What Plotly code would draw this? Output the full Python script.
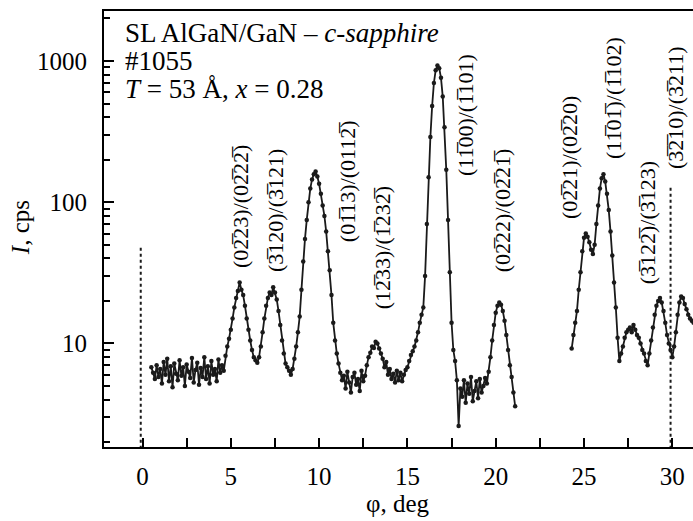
import numpy as np
import plotly.graph_objects as go

# ---------------- data ----------------
phi_a = [0.5,0.6,0.7,0.8,0.9,1.0,1.1,1.2,1.3,1.4,1.5,1.6,1.7,1.8,1.9,2.0,2.1,2.2,2.3,2.4,
         2.5,2.6,2.7,2.8,2.9,3.0,3.1,3.2,3.3,3.4,3.5,3.6,3.7,3.8,3.9,4.0,4.1,4.2,4.3,4.4,
         4.5,4.6,4.7,4.8,4.9,5.0,5.1,5.2,5.3,5.4,5.5,5.6,5.7,5.8,5.9,6.0,6.1,6.2,6.3,6.4,
         6.5,6.6,6.7,6.8,6.9,7.0,7.1,7.2,7.3,7.4,7.5,7.6,7.7,7.8,7.9,8.0,8.1,8.2,8.3,8.4,
         8.5,8.6,8.7,8.8,8.9,9.0,9.1,9.2,9.3,9.4,9.5,9.6,9.7,9.8,9.9,10.0,10.1,10.2,10.3,10.4,
         10.5,10.6,10.7,10.8,10.9,11.0,11.1,11.2,11.3,11.4,11.5,11.6,11.7,11.8,11.9,12.0,12.1,12.2,12.3,12.4,
         12.5,12.6,12.7,12.8,12.9,13.0,13.1,13.2,13.3,13.4,13.5,13.6,13.7,13.8,13.9,14.0,14.1,14.2,14.3,14.4,
         14.5,14.6,14.7,14.8,14.9,15.0,15.1,15.2,15.3,15.4,15.5,15.6,15.7,15.8,15.9,16.0,16.1,16.2,16.3,16.4,
         16.5,16.6,16.7,16.8,16.9,17.0,17.1,17.2,17.3,17.4,17.5,17.6,17.7,17.8,17.9,18.0,18.1,18.2,18.3,18.4,
         18.5,18.6,18.7,18.8,18.9,19.0,19.1,19.2,19.3,19.4,19.5,19.6,19.7,19.8,19.9,20.0,20.1,20.2,20.3,20.4,
         20.5,20.6,20.7,20.8,20.9,21.0,21.1]
cps_a = [6.8,6.2,5.6,7.0,5.8,6.6,5.2,7.4,6.0,7.8,5.4,6.9,4.9,7.2,6.1,5.5,7.6,5.9,6.8,5.0,
         7.1,6.3,5.7,7.9,5.3,6.5,7.3,5.1,6.7,5.8,8.0,5.6,6.9,5.2,7.5,6.0,6.6,5.4,7.7,6.2,
         7.0,6.4,8.2,9.5,10.8,12.5,15.0,18.0,21.0,23.5,27.0,24.0,22.0,18.5,15.0,12.5,10.5,9.0,8.0,7.6,
         7.3,8.0,9.5,12.0,15.0,18.5,21.0,23.0,22.0,25.0,23.0,20.5,17.0,13.5,10.5,8.5,7.2,6.8,6.4,6.0,
         6.6,7.8,9.5,12.0,15.5,24.0,38.0,55.0,75.0,100,125,145,158,165,152,135,115,95,80,62,
         45,33,22,14,10.5,8.5,7.2,6.2,5.5,5.9,4.8,6.3,5.3,4.5,5.8,6.2,5.1,5.6,4.6,6.4,
         5.4,5.9,7.0,8.0,8.6,9.5,9.3,10.3,10.0,9.2,8.5,7.8,6.8,7.4,6.0,6.6,5.6,6.1,5.3,6.4,
         5.5,6.2,5.4,6.0,6.5,6.8,7.5,8.3,8.8,9.5,10.5,12.0,14.0,16.0,18.0,30.0,70,150,290,480,
         700,860,930,890,760,560,340,170,75,32,14,9.0,7.5,5.5,2.6,4.8,4.2,5.5,3.8,5.2,
         4.4,5.8,3.9,4.6,5.4,4.1,5.6,4.5,5.0,5.7,5.2,6.3,8.0,10.5,13.5,16.5,18.5,19.5,18.8,17.0,
         14.5,11.5,9.0,7.0,5.8,4.5,3.6]

phi_b = [24.3,24.4,24.5,24.6,24.7,24.8,24.9,25.0,25.1,25.2,25.3,25.4,25.5,25.6,25.7,25.8,25.9,26.0,26.1,26.2,
         26.3,26.4,26.5,26.6,26.7,26.8,26.9,27.0,27.1,27.2,27.3,27.4,27.5,27.6,27.7,27.8,27.9,28.0,28.1,28.2,
         28.3,28.4,28.5,28.6,28.7,28.8,28.9,29.0,29.1,29.2,29.3,29.4,29.5,29.6,29.7,29.8,29.9,30.0,30.1,30.2,
         30.3,30.4,30.5,30.6,30.7,30.8,30.9,31.0,31.1,31.2]
cps_b = [9.2,11.5,14.0,17.0,24.0,32.0,45.0,56.0,60.0,57.0,52.0,46.0,43.0,50.0,70.0,95.0,125,148,158,140,
         115,88,62,42,27,18,11,7.5,8.5,9.5,11.0,12.0,12.5,13.0,12.0,13.5,12.5,11.5,11.0,10.0,
         9.0,8.5,7.5,7.0,8.5,10.5,13.0,16.0,18.5,20.0,21.0,19.5,17.0,14.0,11.5,10.0,9.0,8.0,9.5,12.0,
         16.0,19.5,21.5,21.0,19.0,17.5,16.0,15.0,14.5,14.0]

dotted_phi = [-0.1, 29.9]
dotted_top = [50, 132]

x_ticks = [0, 5, 10, 15, 20, 25, 30]
y_ticks = [10, 100, 1000]
y_minor = [2,3,4,5,6,7,8,9,20,30,40,50,60,70,80,90,200,300,400,500,600,700,800,900,2000]

B = "\u0305"
labels = [
    f"(02{B}23)/(02{B}22{B})",
    f"(3{B}120)/(3{B}121)",
    f"(01{B}13)/(0112{B})",
    f"(12{B}33)/(1{B}232{B})",
    f"(11{B}00)/(1{B}101)",
    f"(02{B}22)/(02{B}21{B})",
    f"(02{B}21)/(02{B}20)",
    f"(11{B}01{B})/(1{B}102)",
    f"(3{B}122{B})/(3{B}123)",
    f"(3{B}2{B}10)/(3{B}211)",
]
label_phi = [5.52, 7.50, 11.58, 13.56, 18.26, 20.36, 24.21, 26.64, 28.57, 30.15]
label_cps = [94, 88, 141, 48, 414, 86.5, 206, 547, 71, 472]

FONT = "Liberation Serif"
INK = "black"
LINE = "#1a1a1a"

fig = go.Figure()
for xs, ys in ((phi_a, cps_a), (phi_b, cps_b)):
    fig.add_trace(go.Scatter(x=xs, y=ys, mode="lines+markers",
                             line=dict(color=LINE, width=1.8),
                             marker=dict(color=LINE, size=4.5),
                             showlegend=False))
for xp, yt in zip(dotted_phi, dotted_top):
    fig.add_trace(go.Scatter(x=[xp, xp], y=[1.0, yt], mode="lines",
                             line=dict(color=LINE, width=2, dash="dot"),
                             showlegend=False))

ann = []
for t, xp, yp in zip(labels, label_phi, label_cps):
    ann.append(dict(x=xp, y=float(np.log10(yp)), xref="x", yref="y", text=t, textangle=-90,
                    showarrow=False, font=dict(family=FONT, size=22),
                    xanchor="center", yanchor="middle"))

ph = 435.7
def py(p):
    return 1 - (p - 11) / ph

for txt, yy in (("SL AlGaN/GaN – <i>c</i>-<i>sapphire</i>", 33),
                ("#1055", 61),
                ("<i>T</i> = 53 Å, <i>x</i> = 0.28", 89)):
    ann.append(dict(x=(123 - 104) / 589, y=py(yy), xref="paper", yref="paper", text=txt,
                    showarrow=False, xanchor="left", yanchor="middle",
                    font=dict(family=FONT, size=27)))

ann.append(dict(x=(398 - 104) / 589, y=py(503), xref="paper", yref="paper", text="φ, deg",
                showarrow=False, xanchor="center", yanchor="middle",
                font=dict(family=FONT, size=25)))
ann.append(dict(x=(20 - 104) / 589, y=py(227), xref="paper", yref="paper", text="<i>I</i>, cps",
                showarrow=False, xanchor="center", yanchor="middle", textangle=-90,
                font=dict(family=FONT, size=25)))

fig.update_layout(
    width=693, height=521,
    margin=dict(l=104, r=0, t=11, b=74),
    paper_bgcolor="white", plot_bgcolor="white",
    font=dict(family=FONT, color=INK),
    annotations=ann,
    xaxis=dict(range=[-2.18, 31.17], showgrid=False, zeroline=False,
               showline=True, linecolor=INK, linewidth=2, mirror=True,
               ticks="inside", ticklen=9, tickwidth=1.5, tickcolor=INK,
               tickvals=x_ticks, ticktext=[str(v) for v in x_ticks],
               tickfont=dict(family=FONT, size=25), ticklabelstandoff=6,
               minor=dict(ticks="inside", ticklen=9, tickwidth=1.5, tickcolor=INK,
                          tickvals=[2.5, 7.5, 12.5, 17.5, 22.5, 27.5], showgrid=False)),
    yaxis=dict(type="log", range=[0.267, 3.354], showgrid=False, zeroline=False,
               showline=True, linecolor=INK, linewidth=2, mirror=False,
               ticks="inside", ticklen=10, tickwidth=1.5, tickcolor=INK,
               tickvals=y_ticks, ticktext=[str(v) for v in y_ticks],
               tickfont=dict(family=FONT, size=25), ticklabelstandoff=10,
               minor=dict(ticks="inside", ticklen=6, tickwidth=1.5, tickcolor=INK,
                          tickvals=y_minor, showgrid=False)),
)

fig.write_html("out.html")
